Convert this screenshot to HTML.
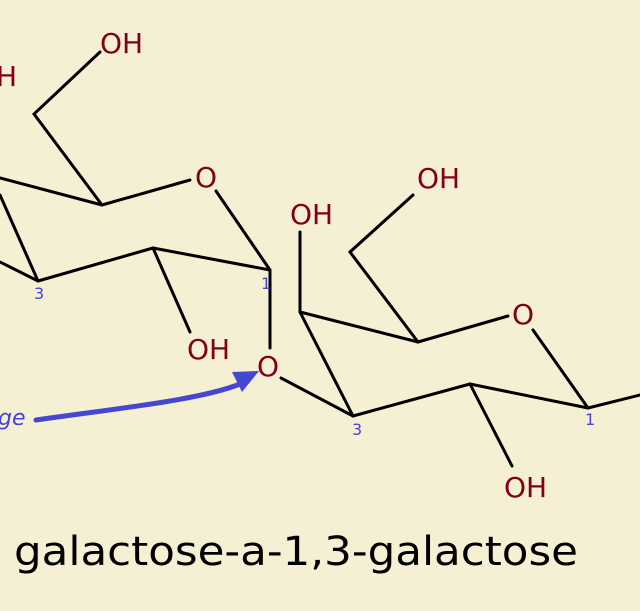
<!DOCTYPE html>
<html><head><meta charset="utf-8"><style>
html,body{margin:0;padding:0;background:#f5efd3;}
svg{display:block;}
.r{fill:#800018;font-family:"DejaVu Sans","Liberation Sans",sans-serif;font-size:28px;}
.n{fill:#4646d2;font-family:"DejaVu Sans","Liberation Sans",sans-serif;font-size:16px;}
</style></head><body>
<svg width="640" height="611" viewBox="0 0 640 611" xmlns="http://www.w3.org/2000/svg">
<rect width="640" height="611" fill="#f5efd3"/>
<g stroke="#000" stroke-width="3" fill="none" stroke-linecap="round" stroke-linejoin="miter">
<polyline points="100,52 34,114 102,205"/>
<line x1="0" y1="178" x2="102" y2="205"/>
<line x1="102" y1="205" x2="190" y2="180"/>
<line x1="216" y1="191" x2="270" y2="270"/>
<line x1="0" y1="262" x2="38" y2="281"/>
<line x1="0" y1="195" x2="38" y2="281"/>
<line x1="38" y1="281" x2="153" y2="248"/>
<line x1="153" y1="248" x2="270" y2="270"/>
<line x1="153" y1="248" x2="190" y2="332"/>
<line x1="270" y1="270" x2="270" y2="348"/>
<line x1="281" y1="378" x2="353" y2="416"/>
<line x1="300" y1="232" x2="300" y2="312"/>
<line x1="300" y1="312" x2="353" y2="416"/>
<line x1="300" y1="312" x2="418" y2="342"/>
<polyline points="413,195 350,252 418,342"/>
<line x1="418" y1="342" x2="508" y2="316"/>
<line x1="533" y1="330" x2="588" y2="408"/>
<line x1="353" y1="416" x2="470" y2="384"/>
<line x1="470" y1="384" x2="588" y2="408"/>
<line x1="470" y1="384" x2="512" y2="466"/>
<line x1="588" y1="408" x2="640" y2="395"/>
</g>
<path d="M36,420 C120,408 200,400 240,384" stroke="#4646d2" stroke-width="5" fill="none" stroke-linecap="round"/>
<polygon points="259,371 232,372 242,392" fill="#4646d2"/>
<text x="-2" y="425" class="n" style="font-size:22px;font-style:italic">ge</text>
<text x="100" y="53" class="r">OH</text>
<text x="-4" y="86" class="r">H</text>
<text x="195" y="187" class="r">O</text>
<text x="187" y="359" class="r">OH</text>
<text x="257" y="376" class="r">O</text>
<text x="290" y="224" class="r">OH</text>
<text x="417" y="188" class="r">OH</text>
<text x="512" y="324" class="r">O</text>
<text x="504" y="497" class="r">OH</text>
<text x="34" y="299" class="n">3</text>
<text x="261" y="289" class="n">1</text>
<text x="352" y="435" class="n">3</text>
<text x="585" y="425" class="n">1</text>
<text x="14" y="565" textLength="564" lengthAdjust="spacingAndGlyphs" style="font-family:'DejaVu Sans','Liberation Sans',sans-serif;font-size:40px;fill:#000">galactose-a-1,3-galactose</text>
</svg>
</body></html>
